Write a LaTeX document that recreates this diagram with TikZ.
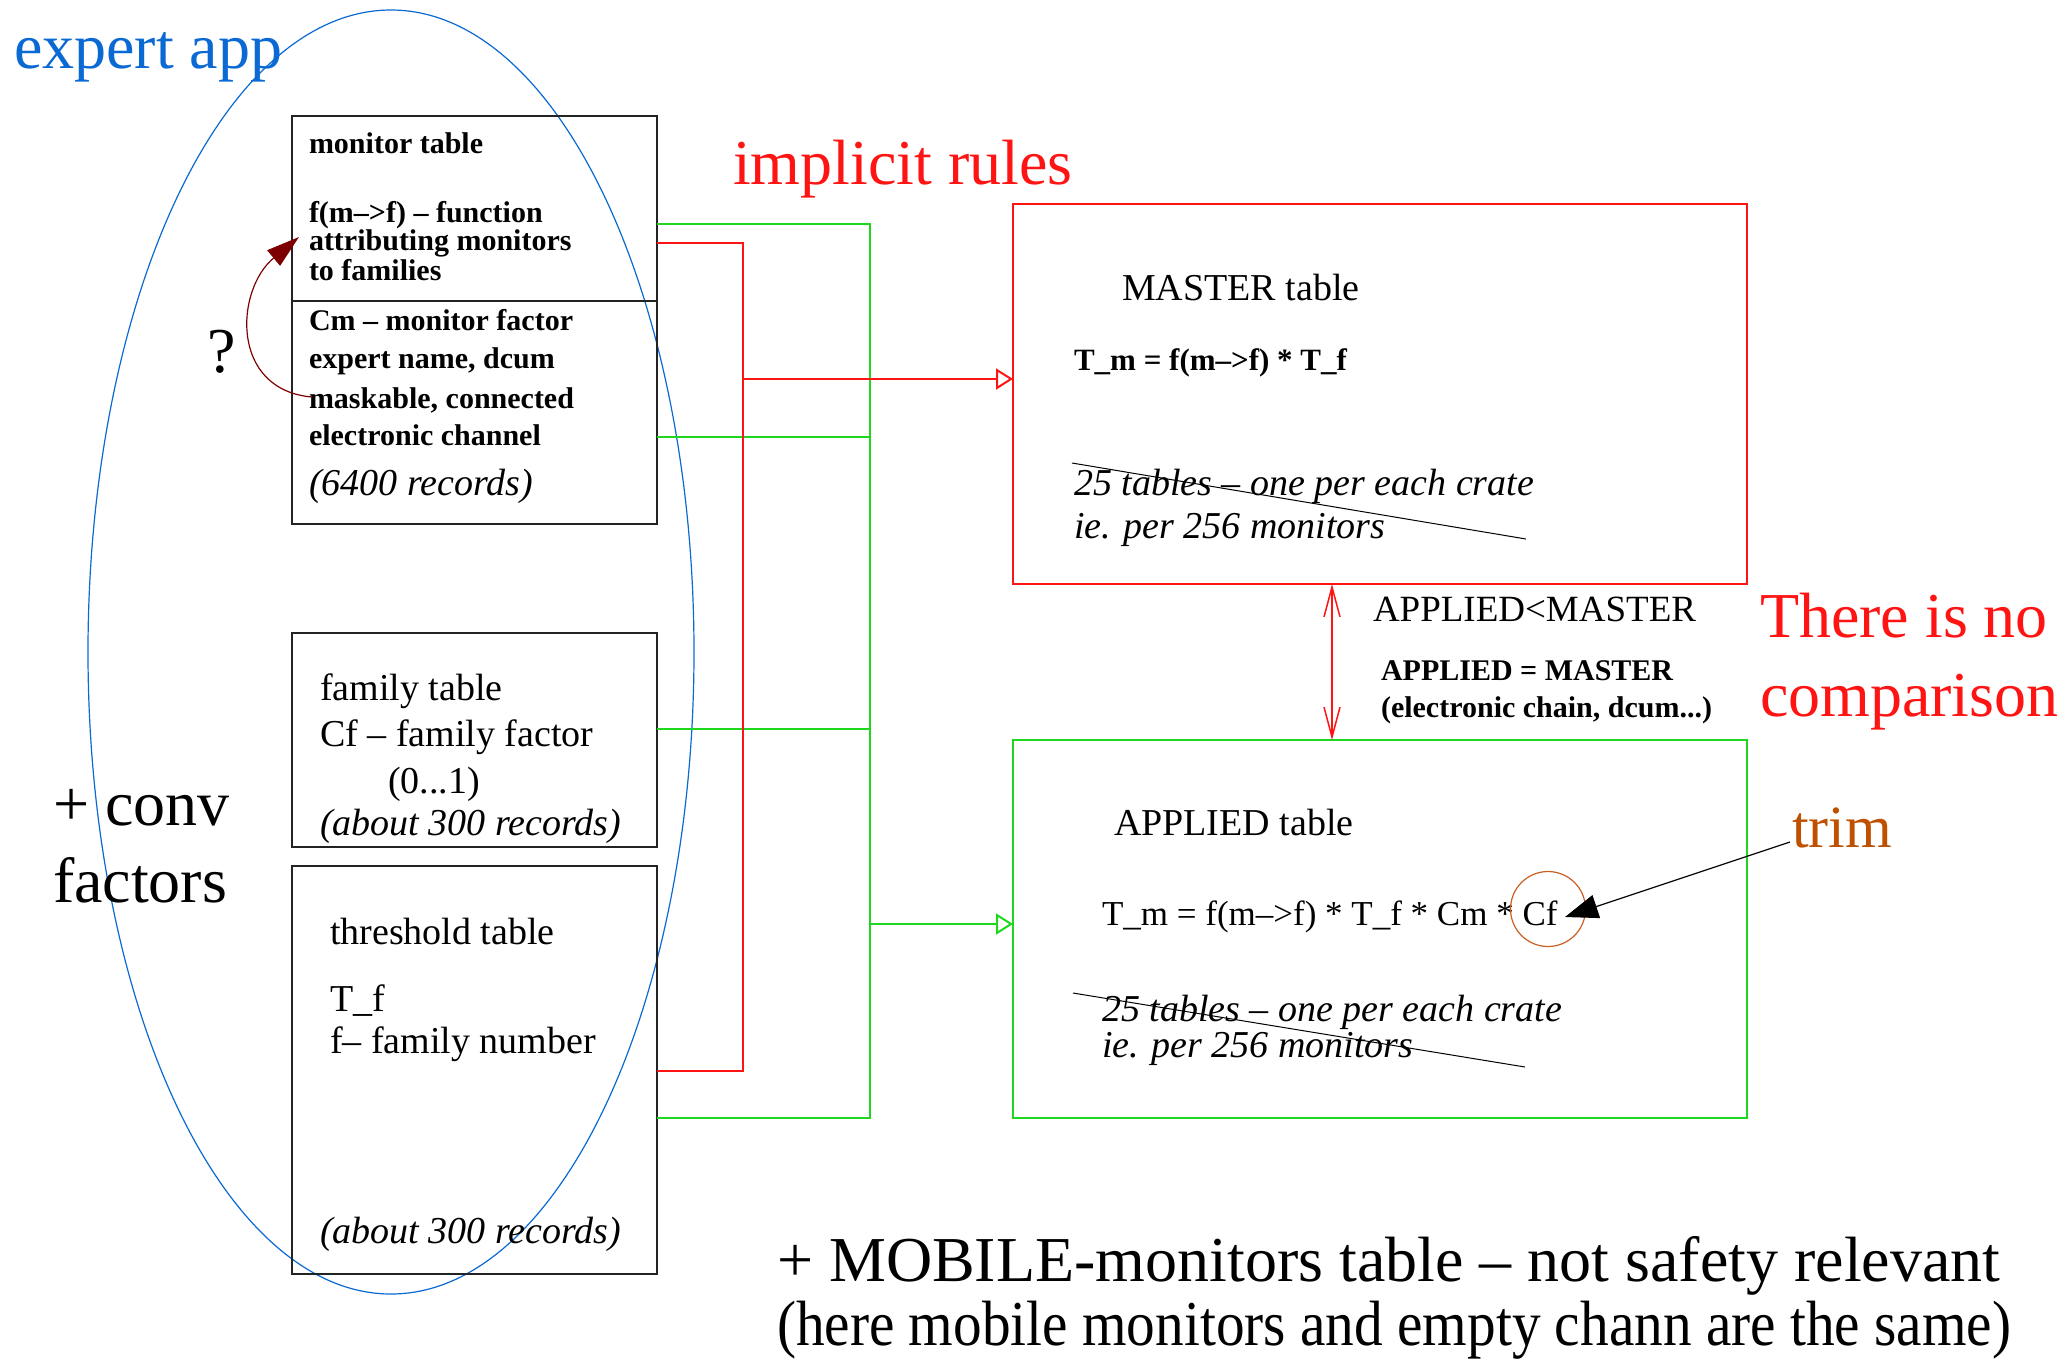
\documentclass[tikz,border=0pt]{standalone}
\usepackage{fontspec}
\setmainfont{Liberation Serif}
\usetikzlibrary{arrows.meta}
\definecolor{gcol}{RGB}{30,215,30}
\definecolor{rcol}{RGB}{255,20,20}
\definecolor{bcol}{RGB}{10,105,210}
\definecolor{boxc}{RGB}{35,35,35}
\definecolor{drc}{RGB}{125,0,0}
\definecolor{trimc}{RGB}{190,80,0}
\definecolor{circc}{RGB}{200,95,35}
\newcommand\myfs[1]{\fontsize{#1}{#1}\selectfont}
\begin{document}
\begin{tikzpicture}[x=1pt,y=-1pt,
  box/.style={draw=boxc,line width=2pt,inner sep=0pt,outer sep=0pt,anchor=north west},
  rbox/.style={draw=rcol,line width=2pt,inner sep=0pt,outer sep=0pt,anchor=north west},
  gbox/.style={draw=gcol,line width=2pt,inner sep=0pt,outer sep=0pt,anchor=north west},
  t/.style={anchor=base west,inner sep=0pt,outer sep=0pt},
  gl/.style={draw=gcol,line width=2pt},
  rl/.style={draw=rcol,line width=2pt},
  opentip/.style={-{Triangle[open,length=17pt,width=21pt]}},
  strike/.style={draw=black,line width=1pt},
]
\useasboundingbox (0,0) rectangle (2066,1361);

% ellipse
\draw[bcol,line width=1.2pt] (391,652) ellipse [x radius=303pt,y radius=642pt];

% boxes
\node[box,minimum width=365pt,minimum height=408pt] (mon) at (292,116) {};
\draw[boxc,line width=2pt] (mon.west |- 0,301) -- (mon.east |- 0,301);
\node[box,minimum width=365pt,minimum height=214pt] (fam) at (292,633) {};
\node[box,minimum width=365pt,minimum height=408pt] (thr) at (292,866) {};
\node[rbox,minimum width=734pt,minimum height=380pt] (mas) at (1013,204) {};
\node[gbox,minimum width=734pt,minimum height=378pt] (app) at (1013,740) {};

% connector junctions
\coordinate (gx1) at (870,224);
\coordinate (gx2) at (870,1118);
\coordinate (rx1) at (743,243);
\coordinate (rx2) at (743,1071);

% green connectors
\draw[gl] (mon.east |- gx1) -- (gx1) -- (gx2) -- (thr.east |- gx2);
\draw[gl] (mon.east |- 0,437) -- (870,437);
\draw[gl] (fam.east |- 0,729) -- (870,729);
\draw[gl,opentip] (870,924) -- (app.west |- 0,924);
% red connectors
\draw[rl] (mon.east |- rx1) -- (rx1) -- (rx2) -- (thr.east |- rx2);
\draw[rl,opentip] (743,379) -- (mas.west |- 0,379);

% double arrow
\draw[rcol,line width=1.5pt,{Straight Barb[length=30pt,width=16pt]}-{Straight Barb[length=30pt,width=16pt]}]
  (mas.south -| 1332,0) -- (app.north -| 1332,0);

% monitor table text
\node[t,font={\myfs{30}\bfseries}] (m1) at (309,153) {monitor table};
\node[t,font={\myfs{30}\bfseries}] (m2) at (309,222) {f(m-->f) -- function};
\node[t,font={\myfs{30}\bfseries}] (m3) at (309,250) {attributing monitors};
\node[t,font={\myfs{30}\bfseries}] (m4) at (309,280) {to families};
\node[t,font={\myfs{30}\bfseries}] (m5) at (309,330) {Cm -- monitor factor};
\node[t,font={\myfs{30}\bfseries}] (m6) at (309,368) {expert name, dcum};
\node[t,font={\myfs{30}\bfseries}] (m7) at (309,408) {maskable, connected};
\node[t,font={\myfs{30}\bfseries}] (m8) at (309,445) {electronic channel};
\node[t,font={\myfs{38}\itshape}] (m9) at (309,495) {(6400 records)};

% family table text
\node[t,font={\myfs{38}}] (f1) at (320,700) {family table};
\node[t,font={\myfs{38}}] (f2) at (320,746) {Cf -- family factor};
\node[t,font={\myfs{38}}] (f3) at (388,793) {(0...1)};
\node[t,font={\myfs{38}\itshape}] (f4) at (320,835) {(about 300 records)};

% threshold table text
\node[t,font={\myfs{38}}] (h1) at (330,944) {threshold table};
\node[t,font={\myfs{38}}] (h2) at (330,1011) {T\_f};
\node[t,font={\myfs{38}}] (h3) at (330,1053) {f-- family number};
\node[t,font={\myfs{38}\itshape}] (h4) at (320,1243) {(about 300 records)};

% master text
\node[t,font={\myfs{38}}] (ma1) at (1122,300) {MASTER table};
\node[t,font={\myfs{31}\bfseries}] (ma2) at (1074,370) {T\_m = f(m-->f) * T\_f};
\node[t,font={\myfs{38}\itshape}] (ma3) at (1074,495) {25 tables -- one per each crate};
\node[t,font={\myfs{38}\itshape}] (ma4) at (1074,538) {ie. per 256 monitors};
\coordinate (ms1) at (1072,463);
\coordinate (ms2) at (1526,539);
\draw[strike] (ms1) -- (ms2);

% applied text
\node[t,font={\myfs{38}}] (ap1) at (1114,835) {APPLIED table};
\node[t,font={\myfs{35}}] (ap2) at (1102,925) {T\_m = f(m-->f) * T\_f * Cm * Cf};
\node[t,font={\myfs{38}\itshape}] (ap3) at (1102,1021) {25 tables -- one per each crate};
\node[t,font={\myfs{38}\itshape}] (ap4) at (1102,1057) {ie. per 256 monitors};
\coordinate (as1) at (1073,993);
\coordinate (as2) at (1525,1067);
\draw[strike] (as1) -- (as2);
\node[draw=circc,line width=1.2pt,circle,minimum size=75pt,inner sep=0pt] (cfc) at (1548,909) {};

% between boxes
\node[t,font={\myfs{37}}] (b1) at (1373,621) {APPLIED<MASTER};
\node[t,font={\myfs{30}\bfseries}] (b2) at (1381,680) {APPLIED = MASTER};
\node[t,font={\myfs{30}\bfseries}] (b3) at (1381,717) {(electronic chain, dcum...)};

% big labels
\node[t,font={\myfs{64}},text=bcol] (ea) at (14,68) {expert app};
\node[t,font={\myfs{64}},text=rcol] (ir) at (733,184) {implicit rules};
\node[t,font={\myfs{64}},text=rcol] (n1) at (1760,637) {There is no};
\node[t,font={\myfs{64}},text=rcol] (n2) at (1760,716) {comparison};
\node[t,font={\myfs{64}}] (c1) at (53,825) {+ conv};
\node[t,font={\myfs{64}}] (c2) at (53,902) {factors};
\node[t,font={\myfs{64}}] (q) at (207,372) {?};
\node[t,font={\myfs{60}},text=trimc] (tr) at (1792,847) {trim};
\node[t,font={\myfs{64}}] (bt1) at (777,1281) {+ MOBILE-monitors table -- not safety relevant};
\node[t,font={\myfs{64}}] (bt2) at (777,1345) {\scalebox{0.895}[1]{(here mobile monitors and empty chann are the same)}};

% trim arrow
\coordinate (trs) at (1790,842);
\coordinate (tre) at (1565,917);
\draw[black,line width=1.2pt,-{Triangle[length=33pt,width=24pt]}] (trs) -- (tre);

% curved question arrow
\coordinate (qs) at (312,397);
\coordinate (qe) at (299,237);
\draw[drc,line width=1.2pt,-{Triangle[length=33pt,width=20pt]}] (qs) .. controls (230,390) and (235,290) .. (qe);
\end{tikzpicture}
\end{document}
